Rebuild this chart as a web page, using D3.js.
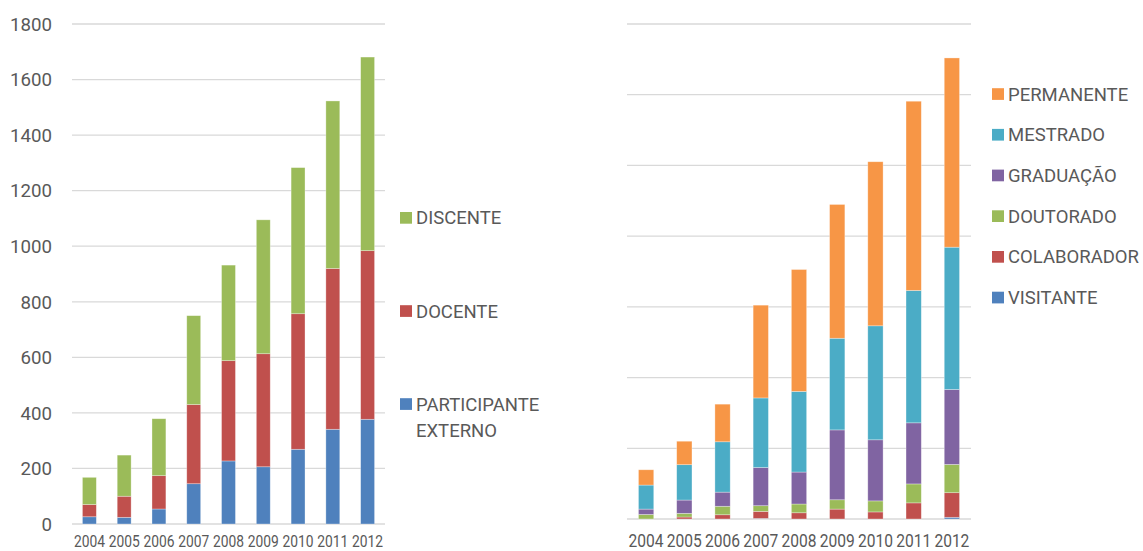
<!DOCTYPE html>
<html>
<head>
<meta charset="utf-8">
<script src="https://cdn.jsdelivr.net/npm/d3@7"></script>
<style>
  html, body { margin: 0; padding: 0; background: #fff; }
  svg { display: block; font-family: Roboto, "Noto Sans", sans-serif; }
</style>
</head>
<body>
<svg id="chart" width="1143" height="551"></svg>
<script>
// ---------- Data ----------
const years = ["2004","2005","2006","2007","2008","2009","2010","2011","2012"];

// Left chart series
const participanteExterno = [26, 24, 54, 145, 227, 206, 269, 341, 377];
const docente             = [44, 76, 120, 285, 361, 407, 488, 579, 607];
const discente            = [98, 148, 205, 320, 344, 482, 526, 603, 697];
const leftTicks = [0, 200, 400, 600, 800, 1000, 1200, 1400, 1600, 1800];

// Right chart series
const visitante   = [0, 0, 0, 2, 0, 0, 0, 0, 6];
const colaborador = [0, 7, 15, 25, 22, 35, 25, 57, 87];
const doutorado   = [16, 13, 30, 20, 31, 33, 39, 67, 100];
const graduacao   = [19, 47, 50, 135, 113, 247, 216, 216, 265];
const mestrado    = [85, 125, 178, 246, 285, 324, 403, 468, 503];
const permanente  = [54, 83, 133, 328, 431, 473, 580, 669, 669];
const rightTicks = [0, 250, 500, 750, 1000, 1250, 1500, 1750];

const textColor = "#595959";
const gridColor = "#d9d9d9";

const svg = d3.select("#chart");

function drawStack(cfg) {
  const g = svg.append("g");
  const x = d3.scaleBand().domain(years).range([cfg.x0, cfg.x1])
              .paddingInner(0.6).paddingOuter(0.3);
  const y = d3.scaleLinear().domain([0, cfg.max]).range([cfg.y0, cfg.y1]);

  // gridlines
  g.selectAll("line.grid").data(cfg.ticks).enter().append("line")
    .attr("x1", cfg.x0).attr("x2", cfg.x1)
    .attr("y1", d => y(d)).attr("y2", d => y(d))
    .attr("stroke", gridColor).attr("stroke-width", 1.3);

  // y labels
  if (cfg.showY) {
    g.selectAll("text.ytick").data(cfg.ticks).enter().append("text")
      .attr("x", cfg.x0 - 20).attr("y", d => y(d)).attr("dy", "0.36em")
      .attr("text-anchor", "end").attr("fill", textColor)
      .attr("font-size", 18.7).text(d => d);
  }

  // stacked bars
  const rows = years.map((yr, i) => {
    const o = { year: yr };
    cfg.series.forEach(s => o[s.key] = s.values[i]);
    return o;
  });
  const stack = d3.stack().keys(cfg.series.map(s => s.key))(rows);
  const colorOf = {};
  cfg.series.forEach(s => colorOf[s.key] = s.color);

  stack.forEach(layer => {
    g.append("g").selectAll("rect").data(layer).enter().append("rect")
      .attr("x", d => x(d.data.year))
      .attr("width", x.bandwidth())
      .attr("y", d => y(d[1]))
      .attr("height", d => Math.max(0, y(d[0]) - y(d[1])))
      .attr("fill", colorOf[layer.key])
      .attr("stroke", "#ffffff").attr("stroke-opacity", 0.45).attr("stroke-width", 0.7);
  });

  // x labels
  g.selectAll("text.xtick").data(years).enter().append("text")
    .attr("x", d => x(d) + x.bandwidth() / 2)
    .attr("y", cfg.labelY)
    .attr("text-anchor", "middle").attr("fill", textColor)
    .attr("font-size", cfg.labelSize)
    .attr("textLength", cfg.labelLen).attr("lengthAdjust", "spacingAndGlyphs")
    .text(d => d);
}

drawStack({
  x0: 72, x1: 385, y0: 524, y1: 24, max: 1800, ticks: leftTicks, showY: true,
  labelY: 547, labelSize: 16, labelLen: 31,
  series: [
    { key: "PARTICIPANTE EXTERNO", values: participanteExterno, color: "#4f81bd" },
    { key: "DOCENTE", values: docente, color: "#c0504d" },
    { key: "DISCENTE", values: discente, color: "#9bbb59" }
  ]
});

drawStack({
  x0: 627, x1: 971, y0: 519, y1: 24, max: 1750, ticks: rightTicks, showY: false,
  labelY: 546.5, labelSize: 18, labelLen: 35,
  series: [
    { key: "VISITANTE", values: visitante, color: "#4f81bd" },
    { key: "COLABORADOR", values: colaborador, color: "#c0504d" },
    { key: "DOUTORADO", values: doutorado, color: "#9bbb59" },
    { key: "GRADUAÇÃO", values: graduacao, color: "#8064a2" },
    { key: "MESTRADO", values: mestrado, color: "#4bacc6" },
    { key: "PERMANENTE", values: permanente, color: "#f79646" }
  ]
});

// ---------- Legends ----------
const leftLegend = [
  { lines: ["DISCENTE"], color: "#9bbb59", base: 224.3 },
  { lines: ["DOCENTE"], color: "#c0504d", base: 317.5 },
  { lines: ["PARTICIPANTE", "EXTERNO"], color: "#4f81bd", base: 410.5 }
];
const rightLegend = [
  { lines: ["PERMANENTE"], color: "#f79646", base: 100.5 },
  { lines: ["MESTRADO"], color: "#4bacc6", base: 141.2 },
  { lines: ["GRADUAÇÃO"], color: "#8064a2", base: 181.9 },
  { lines: ["DOUTORADO"], color: "#9bbb59", base: 222.6 },
  { lines: ["COLABORADOR"], color: "#c0504d", base: 263.3 },
  { lines: ["VISITANTE"], color: "#4f81bd", base: 304 }
];

function drawLegend(items, sx, tx) {
  const g = svg.append("g");
  items.forEach(it => {
    g.append("rect").attr("x", sx).attr("y", it.base - 12.3)
      .attr("width", 12).attr("height", 11.7).attr("fill", it.color);
    const t = g.append("text").attr("x", tx).attr("y", it.base)
      .attr("fill", textColor).attr("font-size", 18.5);
    it.lines.forEach((ln, i) => {
      t.append("tspan").attr("x", tx).attr("dy", i === 0 ? 0 : 26.5).text(ln);
    });
  });
}
drawLegend(leftLegend, 400, 416);
drawLegend(rightLegend, 992, 1008);
</script>
</body>
</html>
